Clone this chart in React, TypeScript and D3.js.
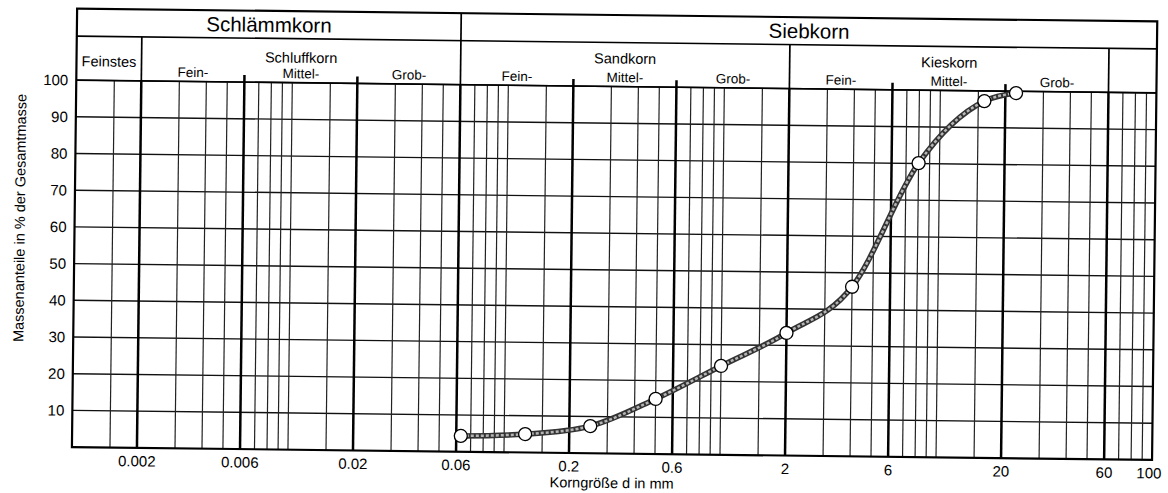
import React from 'react';
import * as d3 from 'd3';

// Sieve analysis data (grain size in mm, % passing)
const sieveSizes = [0.063, 0.125, 0.25, 0.5, 1, 2, 4, 8, 16, 22.4];
const passing = [4.3, 5.0, 7.4, 15.0, 24.2, 33.4, 46.2, 80.1, 97.2, 99.5];

// Axis ticks
const yTicks = [10, 20, 30, 40, 50, 60, 70, 80, 90, 100];
const xTickValues = [0.002, 0.006, 0.02, 0.06, 0.2, 0.6, 2, 6, 20, 60, 100];
const xTickLabels = ['0.002', '0.006', '0.02', '0.06', '0.2', '0.6', '2', '6', '20', '60', '100'];

// Grid structure of the log paper
const gridMultipliers = [1, 1.5, 2, 3, 4, 5, 6, 7, 8, 9];
const gridDecades = [-3, -2, -1, 0, 1];
const boundaries = [0.002, 0.006, 0.02, 0.06, 0.2, 0.6, 2, 6, 20, 60];
const subBoundaries = [0.006, 0.02, 0.2, 0.6, 6, 20];
const groupBoundaries = [0.002, 2, 60];

// Header classification
const mainGroupLabels = ['Schlämmkorn', 'Siebkorn'];
const mainGroupRanges: [number, number][] = [[0.001, 0.06], [0.06, 100]];
const soilGroupLabels = ['Feinstes', 'Schluffkorn', 'Sandkorn', 'Kieskorn'];
const soilGroupRanges: [number, number][] = [[0.001, 0.002], [0.002, 0.06], [0.06, 2], [2, 60]];
const subLabels = ['Fein-', 'Mittel-', 'Grob-', 'Fein-', 'Mittel-', 'Grob-', 'Fein-', 'Mittel-', 'Grob-'];
const subRanges: [number, number][] = [
  [0.002, 0.006], [0.006, 0.02], [0.02, 0.06],
  [0.06, 0.2], [0.2, 0.6], [0.6, 2],
  [2, 6], [6, 20], [20, 60],
];

const W = 1168;
const Hh = 493;
const L = 74.3;
const R = 1154.5;
const TOP = 15;
const H1 = 42.5;
const G = 86.5;
const B = 453.5;
const FONT = '"Liberation Sans", Arial, Helvetica, sans-serif';

export default function App() {
  const x = d3.scaleLog().domain([0.001, 100]).range([L, R]);
  const y = d3.scaleLinear().domain([0, 100]).range([B, G]);

  const gridValues: number[] = [];
  gridDecades.forEach((d) => {
    gridMultipliers.forEach((m) => {
      const v = m * Math.pow(10, d);
      if (v > 0.001 * 1.0001 && v < 100 * 0.9999) gridValues.push(+v.toPrecision(6));
    });
  });
  const isBoundary = (v: number) => boundaries.some((b) => Math.abs(b - v) / b < 1e-6);

  const pts = sieveSizes.map((s, i) => ({ s, p: passing[i] }));
  const line = d3
    .line<{ s: number; p: number }>()
    .x((d) => x(d.s))
    .y((d) => y(d.p))
    .curve(d3.curveMonotoneX);
  const pathD = line(pts) || '';

  return (
    <svg
      width={W}
      height={Hh}
      viewBox={`0 0 ${W} ${Hh}`}
      style={{ position: 'absolute', left: 0, top: 0, display: 'block', background: '#fff' }}
      fontFamily={FONT}
    >
      <rect x={0} y={0} width={W} height={Hh} fill="#fff" />
      <g transform="rotate(0.68 614 250)">
        {/* horizontal grid lines */}
        {yTicks.map((t) => (
          <line key={'h' + t} x1={L} x2={R} y1={y(t)} y2={y(t)} stroke="#111" strokeWidth={1.4} />
        ))}
        {/* thin vertical grid lines */}
        {gridValues
          .filter((v) => !isBoundary(v))
          .map((v) => (
            <line key={'v' + v} x1={x(v)} x2={x(v)} y1={G} y2={B} stroke="#222" strokeWidth={1.2} />
          ))}
        {/* thick boundary lines in the grid */}
        {boundaries.map((v) => (
          <line key={'b' + v} x1={x(v)} x2={x(v)} y1={G} y2={B} stroke="#000" strokeWidth={2.5} />
        ))}
        {/* sub-boundary ticks extending into the header */}
        {subBoundaries.map((v) => (
          <line key={'sb' + v} x1={x(v)} x2={x(v)} y1={G - 7} y2={G} stroke="#000" strokeWidth={2.5} />
        ))}
        {/* group boundaries in header */}
        {groupBoundaries.map((v) => (
          <line key={'gb' + v} x1={x(v)} x2={x(v)} y1={H1} y2={G} stroke="#000" strokeWidth={1.7} />
        ))}
        {/* Schlämmkorn / Siebkorn divider */}
        <line x1={x(0.06)} x2={x(0.06)} y1={TOP} y2={G} stroke="#000" strokeWidth={1.7} />
        {/* header horizontal lines */}
        <line x1={L} x2={R} y1={H1} y2={H1} stroke="#000" strokeWidth={1.7} />
        <line x1={L} x2={R} y1={G} y2={G} stroke="#000" strokeWidth={1.7} />
        {/* outer frame */}
        <rect x={L} y={TOP} width={R - L} height={B - TOP} fill="none" stroke="#000" strokeWidth={2.2} />

        {/* header texts */}
        {mainGroupLabels.map((lab, i) => (
          <text
            key={'mg' + i}
            x={(x(mainGroupRanges[i][0]) + x(mainGroupRanges[i][1])) / 2}
            y={36}
            textAnchor="middle"
            fontSize={20.5}
            fill="#000"
          >
            {lab}
          </text>
        ))}
        {soilGroupLabels.map((lab, i) => (
          <text
            key={'sg' + i}
            x={(x(soilGroupRanges[i][0]) + x(soilGroupRanges[i][1])) / 2}
            y={i === 0 ? 72.5 : i === 1 ? 66.5 : 63.5}
            textAnchor="middle"
            fontSize={14.5}
            fill="#000"
          >
            {lab}
          </text>
        ))}
        {subLabels.map((lab, i) => (
          <text
            key={'sl' + i}
            x={(x(subRanges[i][0]) + x(subRanges[i][1])) / 2}
            y={82}
            textAnchor="middle"
            fontSize={13.5}
            fill="#000"
          >
            {lab}
          </text>
        ))}

        {/* y tick labels */}
        {yTicks.map((t) => (
          <text key={'yl' + t} x={L - 8} y={y(t)} dy="0.36em" textAnchor="end" fontSize={15} fill="#000">
            {t}
          </text>
        ))}
        {/* x tick labels */}
        {xTickValues.map((v, i) => (
          <text
            key={'xl' + v}
            x={v === 100 ? x(v) - 3 : x(v)}
            y={472}
            textAnchor="middle"
            fontSize={15}
            fill="#000"
          >
            {xTickLabels[i]}
          </text>
        ))}
        {/* axis titles */}
        <text x={(L + R) / 2} y={488} textAnchor="middle" fontSize={14.5} fill="#000">
          Korngröße d in mm
        </text>
        <text
          transform={`translate(24.5, 225) rotate(-90)`}
          textAnchor="middle"
          fontSize={14.5}
          fill="#000"
        >
          Massenanteile in % der Gesamtmasse
        </text>

        {/* grading curve */}
        <path d={pathD} fill="none" stroke="#333" strokeWidth={5.5} strokeLinejoin="round" />
        <path d={pathD} fill="none" stroke="#b5b5b5" strokeWidth={2.5} strokeDasharray="3 2" />
        {pts.map((d, i) => (
          <circle key={'c' + i} cx={x(d.s)} cy={y(d.p)} r={6.5} fill="#fff" stroke="#000" strokeWidth={1.3} />
        ))}
      </g>
    </svg>
  );
}
